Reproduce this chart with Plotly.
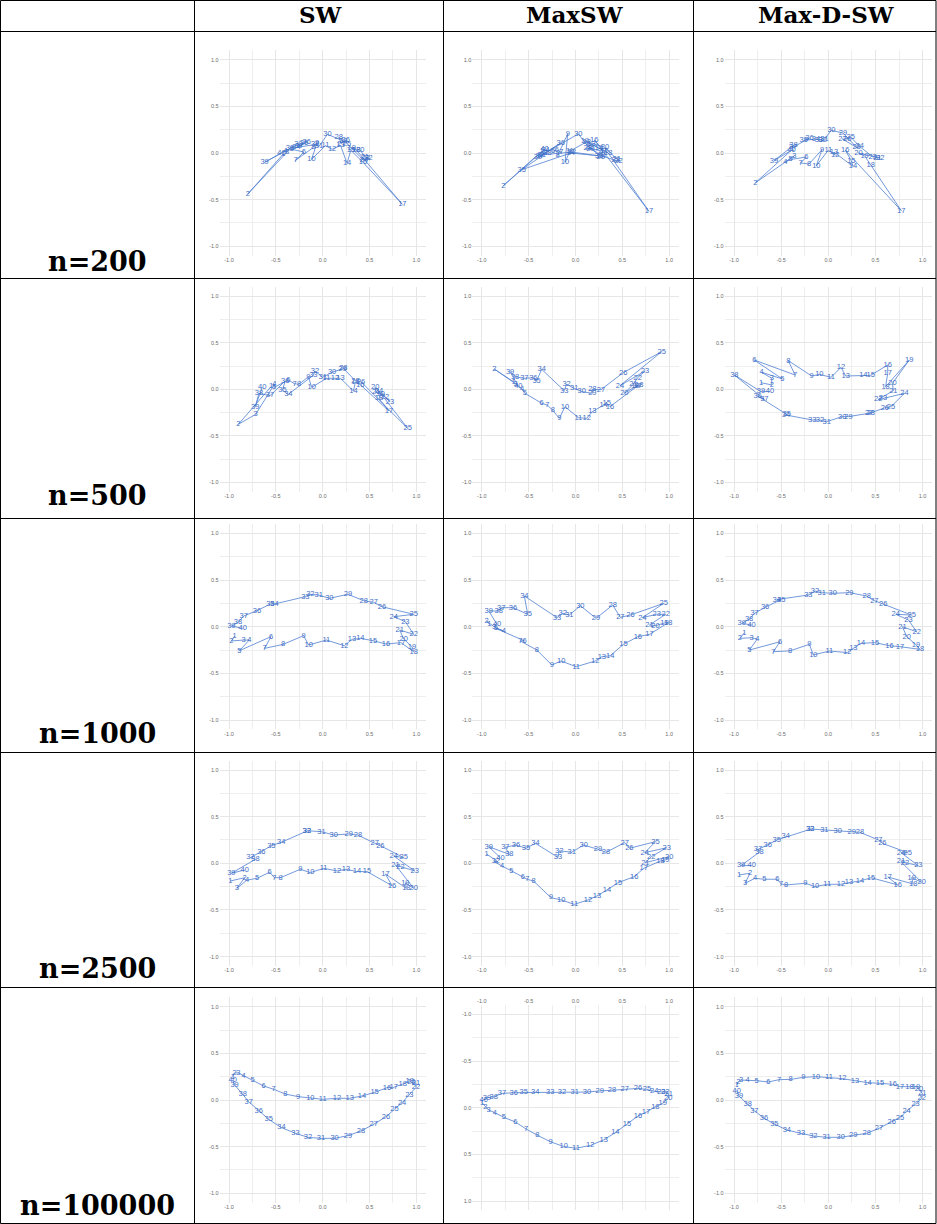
import plotly.graph_objects as go

W, H = 937, 1224

col_titles = ["SW", "MaxSW", "Max-D-SW"]
row_titles = ["n=200", "n=500", "n=1000", "n=2500", "n=100000"]
point_ids = list(range(1, 41))
tick_vals = [-1.0, -0.5, 0.0, 0.5, 1.0]
tick_text = ["-1.0", "-0.5", "0.0", "0.5", "1.0"]

# ---------------- n=200 ----------------
sw_200_x = [-0.42, -0.80, -0.38, -0.40, -0.33, -0.20, -0.29, -0.10, -0.06, -0.12,
            0.03, 0.10, 0.19, 0.26, 0.30, 0.43, 0.85, 0.36, 0.31, 0.40,
            0.45, 0.49, 0.46, 0.44, 0.26, 0.245, 0.20, 0.17, 0.22, 0.05,
            -0.04, -0.08, -0.35, -0.28, -0.20, -0.17, -0.25, -0.26, -0.62, -0.44]
sw_200_y = [-0.01, -0.44, 0.01, 0.02, 0.04, 0.01, -0.08, 0.06, 0.11, -0.07,
            0.08, 0.04, 0.08, -0.11, 0.03, -0.10, -0.55, 0.03, 0.05, 0.03,
            -0.04, -0.06, -0.05, -0.08, 0.10, 0.14, 0.10, 0.17, 0.13, 0.20,
            0.07, 0.09, 0.05, 0.06, 0.11, 0.12, 0.07, 0.10, -0.10, 0.00]

maxsw_200_x = [-0.36, -0.77, -0.34, -0.30, -0.24, -0.20, -0.15, -0.19, -0.083, -0.112,
               -0.06, 0.12, 0.17, 0.25, 0.31, 0.20, 0.784, 0.35, 0.10, 0.315,
               0.44, 0.46, 0.43, 0.28, 0.15, 0.27, 0.29, 0.13, 0.16, 0.03,
               -0.36, -0.04, 0.25, -0.05, -0.574, -0.157, -0.38, -0.30, -0.40, -0.33]
maxsw_200_y = [0.02, -0.35, 0.03, 0.03, 0.02, 0.03, 0.01, -0.025, 0.204, -0.10,
               0.02, 0.12, 0.10, 0.05, 0.02, 0.14, -0.625, 0.00, 0.13, 0.06,
               -0.07, -0.085, -0.08, -0.03, 0.06, -0.04, 0.02, 0.05, 0.04, 0.204,
               -0.02, 0.01, -0.03, 0.00, -0.179, 0.107, -0.03, 0.00, -0.04, 0.04]

maxdsw_200_x = [-0.38, -0.774, -0.36, -0.455, -0.40, -0.233, -0.293, -0.204, -0.067, -0.127,
                0.00, 0.074, 0.06, 0.262, 0.244, 0.18, 0.774, 0.45, 0.385, 0.32,
                0.52, 0.55, 0.47, 0.333, 0.237, 0.20, 0.15, 0.30, 0.156, 0.032,
                -0.04, -0.06, -0.10, -0.13, -0.26, -0.20, -0.374, -0.37, -0.576, -0.39]
maxdsw_200_y = [0.04, -0.32, -0.03, -0.096, -0.07, -0.043, -0.107, -0.118, 0.036, -0.136,
                0.03, -0.025, 0.01, -0.143, -0.082, 0.03, -0.618, -0.125, -0.03, 0.00,
                -0.05, -0.054, -0.04, 0.07, 0.171, 0.15, 0.15, 0.06, 0.214, 0.243,
                0.15, 0.14, 0.14, 0.15, 0.135, 0.16, 0.06, 0.08, -0.082, 0.03]

# ---------------- n=500 ----------------
sw_500_x = [-0.55, -0.90, -0.715, -0.516, -0.52, -0.367, -0.30, -0.253, -0.153, -0.117,
            0.04, 0.13, 0.19, 0.328, 0.35, 0.40, 0.708, 0.60, 0.62, 0.56,
            0.57, 0.666, 0.718, 0.60, 0.907, 0.41, 0.35, 0.22, 0.21, 0.10,
            0.00, -0.082, -0.10, -0.367, -0.43, -0.40, -0.562, -0.68, -0.72, -0.645]
sw_500_y = [0.03, -0.376, -0.269, 0.054, 0.02, 0.10, 0.06, 0.054, 0.135, 0.021,
            0.118, 0.118, 0.118, -0.018, 0.08, 0.05, -0.233, -0.10, -0.05, 0.02,
            -0.03, -0.08, -0.133, -0.02, -0.42, 0.08, 0.09, 0.226, 0.22, 0.183,
            0.129, 0.197, 0.15, -0.054, -0.01, 0.09, -0.068, -0.043, -0.187, 0.021]

maxsw_500_x = [-0.66, -0.867, -0.64, -0.57, -0.54, -0.361, -0.30, -0.243, -0.172, -0.112,
               0.03, 0.12, 0.18, 0.30, 0.333, 0.368, 0.664, 0.68, 0.64, 0.521,
               0.617, 0.664, 0.742, 0.475, 0.92, 0.51, 0.272, 0.18, 0.18, 0.066,
               -0.013, -0.095, -0.12, -0.361, -0.415, -0.45, -0.546, -0.645, -0.698, -0.61]
maxsw_500_y = [0.08, 0.218, 0.06, 0.00, -0.043, -0.15, -0.17, -0.226, -0.312, -0.187,
               -0.305, -0.312, -0.24, -0.17, -0.15, -0.187, 0.032, 0.05, 0.03, -0.043,
               0.054, 0.125, 0.197, 0.039, 0.405, 0.179, -0.004, 0.00, -0.043, -0.025,
               0.011, 0.054, -0.015, 0.215, 0.089, 0.125, 0.118, 0.136, 0.19, 0.032]

maxdsw_500_x = [-0.714, -0.60, -0.60, -0.707, -0.487, -0.785, -0.353, -0.424, -0.176, -0.095,
                0.029, 0.135, 0.184, 0.372, 0.449, 0.63, 0.63, 0.608, 0.859, 0.68,
                0.69, 0.53, 0.58, 0.807, 0.665, 0.60, 0.433, 0.45, 0.213, 0.148,
                -0.017, -0.088, -0.17, -0.449, -0.44, -0.75, -0.678, -0.996, -0.714, -0.619]
maxdsw_500_y = [0.071, 0.047, 0.118, 0.183, 0.111, 0.315, 0.154, 0.308, 0.143, 0.161,
                0.129, 0.236, 0.143, 0.15, 0.15, 0.261, 0.172, 0.028, 0.315, 0.065,
                -0.015, -0.108, -0.10, -0.043, -0.187, -0.20, -0.258, -0.255, -0.294, -0.294,
                -0.348, -0.33, -0.33, -0.276, -0.27, -0.072, -0.108, 0.154, -0.025, -0.025]

# ---------------- n=1000 ----------------
sw_1000_x = [-0.94, -0.975, -0.843, -0.783, -0.889, -0.552, -0.62, -0.424, -0.204, -0.15,
             0.039, 0.231, 0.313, 0.402, 0.537, 0.676, 0.836, 0.971, 0.953, 0.864,
             0.822, 0.971, 0.882, 0.758, 0.971, 0.633, 0.544, 0.437, 0.27, 0.071,
             -0.043, -0.132, -0.185, -0.515, -0.559, -0.701, -0.843, -0.904, -0.975, -0.854]
sw_1000_y = [-0.10, -0.153, -0.143, -0.143, -0.257, -0.107, -0.232, -0.19, -0.096, -0.196,
             -0.143, -0.204, -0.136, -0.125, -0.15, -0.186, -0.171, -0.268, -0.214, -0.132,
             -0.036, -0.082, 0.054, 0.107, 0.133, 0.214, 0.261, 0.279, 0.347, 0.304,
             0.34, 0.347, 0.322, 0.243, 0.243, 0.172, 0.115, 0.047, 0.007, -0.018]

maxsw_1000_x = [-0.92, -0.95, -0.87, -0.766, -0.85, -0.543, -0.59, -0.413, -0.253, -0.153,
                0.007, 0.21, 0.281, 0.37, 0.512, 0.665, 0.79, 0.99, 0.95, 0.853,
                0.79, 0.962, 0.867, 0.714, 0.941, 0.586, 0.479, 0.397, 0.219, 0.052,
                -0.066, -0.137, -0.197, -0.546, -0.51, -0.667, -0.793, -0.82, -0.926, -0.837]
maxsw_1000_y = [0.03, 0.06, 0.00, -0.046, -0.018, -0.153, -0.153, -0.25, -0.41, -0.368,
                -0.429, -0.368, -0.322, -0.311, -0.189, -0.107, -0.082, 0.043, 0.04, 0.011,
                0.018, 0.133, 0.133, 0.097, 0.25, 0.125, 0.10, 0.232, 0.09, 0.225,
                0.125, 0.143, 0.097, 0.329, 0.133, 0.204, 0.204, 0.168, 0.168, 0.025]

maxdsw_1000_x = [-0.89, -0.937, -0.813, -0.753, -0.837, -0.512, -0.583, -0.406, -0.201, -0.159,
                 0.011, 0.20, 0.266, 0.347, 0.495, 0.648, 0.76, 0.973, 0.93, 0.831,
                 0.786, 0.937, 0.85, 0.715, 0.884, 0.583, 0.488, 0.407, 0.223, 0.047,
                 -0.07, -0.141, -0.212, -0.547, -0.50, -0.67, -0.782, -0.84, -0.918, -0.813]
maxdsw_1000_y = [-0.064, -0.125, -0.118, -0.132, -0.25, -0.161, -0.268, -0.259, -0.189, -0.303,
                 -0.261, -0.277, -0.232, -0.178, -0.171, -0.204, -0.214, -0.243, -0.193, -0.107,
                 0.00, -0.054, 0.072, 0.133, 0.125, 0.24, 0.279, 0.329, 0.365, 0.358,
                 0.365, 0.383, 0.34, 0.29, 0.29, 0.208, 0.143, 0.079, 0.036, 0.018]

# ---------------- n=2500 ----------------
sw_2500_x = [-0.986, -0.833, -0.915, -0.808, -0.701, -0.566, -0.516, -0.45, -0.239, -0.132,
             0.01, 0.153, 0.249, 0.366, 0.473, 0.74, 0.669, 0.893, 0.882, 0.971,
             0.776, 0.829, 0.982, 0.758, 0.865, 0.615, 0.555, 0.377, 0.277, 0.117,
             -0.014, -0.167, -0.17, -0.442, -0.548, -0.655, -0.772, -0.718, -0.975, -0.833]
sw_2500_y = [-0.19, -0.154, -0.268, -0.179, -0.161, -0.096, -0.154, -0.154, -0.064, -0.10,
             -0.054, -0.082, -0.064, -0.089, -0.089, -0.24, -0.115, -0.268, -0.208, -0.268,
             -0.018, -0.036, -0.082, 0.078, 0.061, 0.189, 0.214, 0.303, 0.314, 0.303,
             0.339, 0.349, 0.345, 0.225, 0.189, 0.125, 0.061, 0.043, -0.107, -0.072]

maxsw_2500_x = [-0.95, -0.829, -0.871, -0.783, -0.685, -0.561, -0.514, -0.448, -0.263, -0.152,
                -0.013, 0.133, 0.229, 0.336, 0.454, 0.627, 0.728, 0.906, 0.959, 1.0,
                0.745, 0.808, 0.973, 0.739, 0.854, 0.575, 0.525, 0.325, 0.24, 0.087,
                -0.041, -0.173, -0.187, -0.428, -0.528, -0.635, -0.749, -0.706, -0.927, -0.801]
maxsw_2500_y = [0.10, 0.018, 0.018, -0.029, -0.079, -0.143, -0.172, -0.19, -0.368, -0.393,
                -0.44, -0.393, -0.35, -0.286, -0.208, -0.143, -0.054, 0.025, 0.036, 0.071,
                0.007, 0.071, 0.167, 0.114, 0.232, 0.161, 0.221, 0.118, 0.15, 0.196,
                0.118, 0.134, 0.064, 0.214, 0.161, 0.196, 0.171, 0.096, 0.178, 0.06]

maxdsw_2500_x = [-0.947, -0.83, -0.883, -0.777, -0.678, -0.54, -0.50, -0.448, -0.243, -0.14,
                 -0.011, 0.134, 0.219, 0.336, 0.453, 0.736, 0.631, 0.90, 0.884, 0.99,
                 0.77, 0.813, 0.955, 0.77, 0.842, 0.573, 0.531, 0.336, 0.248, 0.10,
                 -0.042, -0.193, -0.19, -0.452, -0.547, -0.643, -0.745, -0.73, -0.925, -0.812]
maxdsw_2500_y = [-0.125, -0.107, -0.214, -0.161, -0.171, -0.171, -0.222, -0.232, -0.214, -0.25,
                 -0.225, -0.225, -0.207, -0.19, -0.154, -0.232, -0.147, -0.222, -0.154, -0.204,
                 0.018, 0.007, -0.025, 0.114, 0.114, 0.214, 0.25, 0.332, 0.339, 0.35,
                 0.357, 0.368, 0.365, 0.286, 0.25, 0.196, 0.15, 0.12, -0.025, -0.025]

# ---------------- n=100000 ----------------
sw_100000_x = [-0.96, -0.94, -0.90, -0.843, -0.747, -0.63, -0.523, -0.399, -0.263, -0.132,
               0.00, 0.152, 0.288, 0.419, 0.554, 0.686, 0.758, 0.854, 0.929, 0.946,
               0.996, 0.996, 0.925, 0.847, 0.765, 0.676, 0.544, 0.408, 0.27, 0.127,
               -0.018, -0.157, -0.29, -0.441, -0.576, -0.683, -0.79, -0.854, -0.94, -0.961]
sw_100000_y = [0.25, 0.29, 0.29, 0.261, 0.214, 0.15, 0.115, 0.064, 0.036, 0.018,
               0.007, 0.018, 0.018, 0.043, 0.082, 0.132, 0.136, 0.171, 0.207, 0.19,
               0.18, 0.136, 0.054, -0.029, -0.10, -0.179, -0.261, -0.332, -0.382, -0.411,
               -0.411, -0.40, -0.357, -0.296, -0.207, -0.114, -0.018, 0.061, 0.161, 0.214]

maxsw_100000_x = [-0.998, -0.962, -0.927, -0.862, -0.766, -0.642, -0.528, -0.407, -0.265, -0.126,
                  0.005, 0.158, 0.301, 0.425, 0.549, 0.667, 0.752, 0.852, 0.93, 0.99,
                  0.995, 0.958, 0.916, 0.841, 0.763, 0.667, 0.525, 0.39, 0.258, 0.123,
                  -0.009, -0.144, -0.269, -0.429, -0.553, -0.66, -0.784, -0.873, -0.944, -0.98]
maxsw_100000_y = [-0.054, -0.011, 0.025, 0.053, 0.103, 0.153, 0.228, 0.295, 0.366, 0.416,
                  0.434, 0.405, 0.345, 0.267, 0.174, 0.089, 0.05, -0.011, -0.047, -0.10,
                  -0.146, -0.168, -0.171, -0.175, -0.196, -0.207, -0.196, -0.19, -0.179, -0.168,
                  -0.164, -0.164, -0.164, -0.164, -0.164, -0.16, -0.153, -0.118, -0.107, -0.082]

maxdsw_100000_x = [-0.971, -0.954, -0.926, -0.855, -0.76, -0.636, -0.523, -0.40, -0.265, -0.13,
                   0.007, 0.149, 0.283, 0.417, 0.548, 0.683, 0.76, 0.86, 0.93, 0.962,
                   0.997, 0.99, 0.926, 0.83, 0.76, 0.672, 0.538, 0.407, 0.265, 0.131,
                   -0.018, -0.159, -0.289, -0.44, -0.572, -0.682, -0.784, -0.855, -0.947, -0.971]
maxdsw_100000_y = [0.161, 0.196, 0.214, 0.214, 0.207, 0.193, 0.218, 0.221, 0.243, 0.25,
                   0.243, 0.229, 0.207, 0.186, 0.179, 0.168, 0.143, 0.143, 0.143, 0.114,
                   0.071, 0.018, -0.043, -0.118, -0.19, -0.232, -0.304, -0.357, -0.375, -0.40,
                   -0.40, -0.386, -0.357, -0.322, -0.257, -0.196, -0.114, -0.043, 0.043, 0.10]

panels = [
    [(sw_200_x, sw_200_y), (maxsw_200_x, maxsw_200_y), (maxdsw_200_x, maxdsw_200_y)],
    [(sw_500_x, sw_500_y), (maxsw_500_x, maxsw_500_y), (maxdsw_500_x, maxdsw_500_y)],
    [(sw_1000_x, sw_1000_y), (maxsw_1000_x, maxsw_1000_y), (maxdsw_1000_x, maxdsw_1000_y)],
    [(sw_2500_x, sw_2500_y), (maxsw_2500_x, maxsw_2500_y), (maxdsw_2500_x, maxdsw_2500_y)],
    [(sw_100000_x, sw_100000_y), (maxsw_100000_x, maxsw_100000_y), (maxdsw_100000_x, maxdsw_100000_y)],
]

# ---------------- geometry (pixels) ----------------
col_x0 = [322.7, 575.5, 828.3]      # pixel of x = 0
col_sx = [93.7, 93.7, 94.3]         # pixels per unit
row_y0 = [153.0, 389.3, 626.7, 863.3, 1100.0]
row_sy = [93.3, 93.0, 93.3, 93.3, 93.3]
flipped = (4, 1)                    # panel shown mirrored vertically
flip_y0 = 1107.7
R = 1.1

LINE_C = "#4f7fd2"
TEXT_C = "#3f6fc6"
GRID_C = "#e6e6e6"
MINOR_C = "#eeeeee"
TICK_C = "#6d6d6d"

fig = go.Figure()
layout = {}
k = 0
for r in range(5):
    for c in range(3):
        k += 1
        xs, ys = panels[r][c]
        is_flip = (r, c) == flipped
        y0 = flip_y0 if is_flip else row_y0[r]
        sx, sy, x0 = col_sx[c], row_sy[r], col_x0[c]
        xl, xr = (x0 - R * sx) / W, (x0 + R * sx) / W
        yt, yb = (y0 - R * sy), (y0 + R * sy)
        dom_y = [1 - yb / H, 1 - yt / H]
        sfx = "" if k == 1 else str(k)
        fig.add_trace(go.Scatter(
            x=xs, y=ys, text=[str(i) for i in point_ids],
            mode="lines+text", textposition="middle center",
            line=dict(color=LINE_C, width=0.8),
            textfont=dict(color=TEXT_C, size=7.5, family="Liberation Sans"),
            xaxis="x" + sfx, yaxis="y" + sfx, hoverinfo="skip",
            cliponaxis=False,
        ))
        common = dict(
            tickvals=tick_vals, ticktext=tick_text, showgrid=True,
            gridcolor=GRID_C, gridwidth=1, zeroline=False, showline=False,
            ticks="", tickfont=dict(size=5.5, color=TICK_C, family="Liberation Sans"),
            minor=dict(tickvals=[-0.75, -0.25, 0.25, 0.75], showgrid=True,
                       gridcolor=MINOR_C, gridwidth=1),
            fixedrange=True,
        )
        layout["xaxis" + sfx] = dict(common, domain=[xl, xr], range=[-R, R],
                                     anchor="y" + sfx,
                                     side="top" if is_flip else "bottom")
        layout["yaxis" + sfx] = dict(common, domain=dom_y,
                                     range=[R, -R] if is_flip else [-R, R],
                                     anchor="x" + sfx)

fig.update_layout(**layout)

# ---------------- table lines ----------------
v_lines = [0.5, 194.5, 443.5, 693.5, 936.0]
h_lines = [0.5, 31.5, 278.5, 518.5, 752.5, 987.5, 1223.5]
shapes = []
for vx in v_lines:
    shapes.append(dict(type="line", xref="paper", yref="paper",
                       x0=vx / W, x1=vx / W, y0=1 - h_lines[0] / H, y1=1 - h_lines[-1] / H,
                       line=dict(color="black", width=1)))
for hy in h_lines:
    shapes.append(dict(type="line", xref="paper", yref="paper",
                       x0=v_lines[0] / W, x1=v_lines[-1] / W, y0=1 - hy / H, y1=1 - hy / H,
                       line=dict(color="black", width=1)))

annotations = []
header_cx = [321, 575, 826]
for t, cx in zip(col_titles, header_cx):
    annotations.append(dict(text="<b>" + t + "</b>", x=cx / W, y=1 - 15 / H,
                            xref="paper", yref="paper", showarrow=False,
                            xanchor="center", yanchor="middle",
                            font=dict(family="DejaVu Serif", size=23, color="black")))
row_label_y = [261, 495, 733, 968, 1205]
for t, ry in zip(row_titles, row_label_y):
    annotations.append(dict(text="<b>" + t + "</b>", x=97 / W, y=1 - ry / H,
                            xref="paper", yref="paper", showarrow=False,
                            xanchor="center", yanchor="middle",
                            font=dict(family="DejaVu Serif", size=27, color="black")))

fig.update_layout(
    width=W, height=H, margin=dict(l=0, r=0, t=0, b=0),
    paper_bgcolor="white", plot_bgcolor="white", showlegend=False,
    shapes=shapes, annotations=annotations,
)

fig.write_html(
    "out.html",
    config={"displayModeBar": False, "staticPlot": True},
    post_script="document.body.style.margin='0';document.body.style.overflow='hidden';",
)
